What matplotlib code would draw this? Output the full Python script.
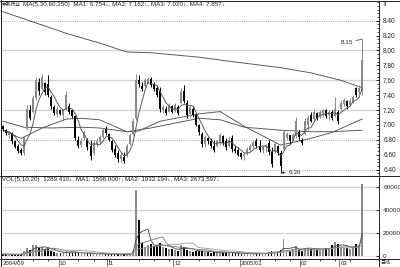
import numpy as np
import pandas as pd
import matplotlib
matplotlib.use('Agg')
import matplotlib.pyplot as plt
from matplotlib.lines import Line2D
from matplotlib.ticker import FixedLocator, FormatStrFormatter

plt.rcParams['font.family'] = ['Liberation Sans', 'DejaVu Sans', 'Noto Sans CJK SC']

# ---------------- data ----------------
stock_name = "中新药业"
price_header = "MA(5,30,60,250)  MA1: 6.754\u2193, MA2: 7.162\u2193, MA3: 7.020\u2193, MA4: 7.857\u2193"
vol_header = "VOL(5,10,20)  1289.410\u2193, MA1: 1598.000\u2191, MA2: 1932.194\u2193, MA3: 2673.597\u2193"

opens = [6.98, 6.93, 6.86, 6.88, 6.79, 6.72, 6.66, 6.63, 6.95, 7.20,
         7.18, 7.36, 7.58, 7.48, 7.56, 7.55, 7.38, 7.24, 7.15, 7.20,
         7.14, 7.22, 7.26, 7.20, 7.12, 6.80, 6.73, 6.82, 6.80, 6.72,
         6.62, 6.74, 6.77, 6.84, 6.94, 6.88, 6.79, 6.68, 6.62, 6.55,
         6.57, 6.58, 6.74, 6.88, 7.10, 7.60, 7.52, 7.52, 7.58, 7.62,
         7.55, 7.50, 7.45, 7.20, 7.22, 7.18, 7.25, 7.19, 7.24, 7.30,
         7.46, 7.30, 7.15, 7.22, 7.14, 7.00, 6.88, 6.74, 6.82, 6.78,
         6.72, 6.72, 6.76, 6.85, 6.78, 6.72, 6.82, 6.68, 6.66, 6.62,
         6.58, 6.62, 6.67, 6.72, 6.78, 6.72, 6.66, 6.70, 6.76, 6.64,
         6.64, 6.72, 6.62, 6.68, 6.82, 6.86, 6.80, 6.85, 6.90, 6.80,
         6.88, 7.00, 7.14, 7.08, 7.16, 7.11, 7.16, 7.20, 7.13, 7.17,
         7.12, 7.18, 7.22, 7.28, 7.32, 7.27, 7.31, 7.50, 7.44, 7.45]
highs = [7.00, 6.94, 6.92, 6.90, 6.80, 6.74, 6.69, 6.85, 7.27, 7.27,
         7.40, 7.65, 7.63, 7.69, 7.58, 7.67, 7.40, 7.27, 7.25, 7.22,
         7.22, 7.45, 7.30, 7.22, 7.14, 6.85, 6.82, 6.93, 6.82, 6.80,
         6.80, 6.82, 6.87, 6.96, 6.98, 6.89, 6.80, 6.73, 6.66, 6.64,
         6.64, 6.75, 6.89, 7.09, 7.69, 7.67, 7.58, 7.63, 7.65, 7.65,
         7.58, 7.54, 7.51, 7.27, 7.25, 7.29, 7.27, 7.29, 7.27, 7.49,
         7.54, 7.34, 7.27, 7.25, 7.16, 7.02, 6.91, 6.87, 6.84, 6.82,
         6.80, 6.80, 6.89, 6.87, 6.82, 6.84, 6.87, 6.73, 6.71, 6.64,
         6.64, 6.71, 6.75, 6.80, 6.82, 6.80, 6.73, 6.75, 6.80, 6.71,
         6.77, 6.73, 6.66, 6.93, 6.91, 6.87, 6.89, 7.11, 6.93, 6.82,
         7.09, 7.13, 7.18, 7.22, 7.18, 7.20, 7.22, 7.22, 7.20, 7.20,
         7.38, 7.20, 7.34, 7.36, 7.34, 7.36, 7.40, 7.51, 7.54, 8.15]
lows = [6.92, 6.87, 6.82, 6.75, 6.69, 6.62, 6.60, 6.60, 6.93, 7.07,
        7.16, 7.33, 7.40, 7.47, 7.40, 7.38, 7.22, 7.13, 7.11, 7.13,
        7.07, 7.20, 7.15, 7.09, 6.80, 6.69, 6.71, 6.80, 6.66, 6.53,
        6.60, 6.71, 6.75, 6.82, 6.87, 6.78, 6.64, 6.57, 6.51, 6.51,
        6.49, 6.57, 6.73, 6.87, 7.07, 7.51, 7.45, 7.51, 7.56, 7.51,
        7.45, 7.38, 7.18, 7.16, 7.13, 7.18, 7.16, 7.18, 7.13, 7.29,
        7.29, 7.09, 7.11, 7.11, 6.98, 6.87, 6.71, 6.71, 6.75, 6.69,
        6.64, 6.71, 6.73, 6.73, 6.66, 6.71, 6.64, 6.62, 6.58, 6.55,
        6.53, 6.60, 6.64, 6.69, 6.69, 6.64, 6.62, 6.64, 6.60, 6.44,
        6.62, 6.60, 6.36, 6.66, 6.80, 6.75, 6.78, 6.82, 6.80, 6.73,
        6.87, 6.93, 7.04, 7.07, 7.07, 7.09, 7.11, 7.09, 7.07, 7.07,
        7.11, 7.02, 7.20, 7.25, 7.22, 7.25, 7.29, 7.37, 7.42, 7.40]
closes = [6.94, 6.89, 6.90, 6.78, 6.71, 6.65, 6.62, 6.83, 7.22, 7.10,
          7.36, 7.60, 7.45, 7.64, 7.44, 7.40, 7.25, 7.16, 7.22, 7.15,
          7.20, 7.40, 7.18, 7.12, 6.83, 6.72, 6.79, 6.90, 6.70, 6.58,
          6.76, 6.78, 6.84, 6.93, 6.89, 6.80, 6.67, 6.60, 6.55, 6.60,
          6.52, 6.72, 6.86, 7.05, 7.60, 7.55, 7.48, 7.60, 7.62, 7.54,
          7.48, 7.40, 7.22, 7.24, 7.16, 7.26, 7.18, 7.27, 7.16, 7.44,
          7.32, 7.14, 7.24, 7.14, 7.00, 6.90, 6.74, 6.84, 6.78, 6.72,
          6.67, 6.78, 6.86, 6.76, 6.70, 6.80, 6.68, 6.65, 6.60, 6.57,
          6.61, 6.68, 6.72, 6.77, 6.72, 6.67, 6.70, 6.73, 6.64, 6.48,
          6.74, 6.62, 6.45, 6.90, 6.88, 6.78, 6.86, 7.05, 6.84, 6.76,
          7.05, 7.10, 7.06, 7.18, 7.10, 7.17, 7.20, 7.12, 7.18, 7.10,
          7.22, 7.05, 7.30, 7.33, 7.26, 7.32, 7.37, 7.40, 7.50, 7.87]
volumes = [1500, 1200, 1000, 1300, 1100, 1400, 1200, 4500, 7000, 5000,
           9500, 9000, 6500, 7500, 6000, 6500, 4000, 3000, 2500, 2000,
           2500, 4000, 2500, 2000, 3500, 2500, 1800, 1500, 2000, 2200,
           1500, 1200, 1400, 1600, 1300, 1500, 1800, 1500, 1200, 1000,
           1300, 1100, 2500, 4000, 57000, 31000, 11000, 8000, 9000, 10000,
           8500, 9500, 11000, 8000, 7000, 6000, 5500, 5000, 4500, 9500,
           8000, 5000, 4000, 3500, 4500, 4000, 4500, 3500, 3000, 2500,
           3000, 2800, 3500, 2500, 2500, 2200, 3000, 2000, 2200, 1800,
           1500, 1500, 1800, 1600, 2000, 1800, 2500, 2200, 3000, 4500,
           3500, 3000, 5000, 15000, 5000, 4500, 5500, 8500, 5000, 4000,
           7000, 6500, 5500, 6500, 5000, 6000, 5500, 6500, 7000, 9000,
           12000, 10500, 8000, 7000, 6500, 6000, 7500, 10000, 9000, 63000]

# long moving averages (candle index, value)
ma30_idx = [0, 6, 13, 21, 26, 32, 41, 45, 52, 65, 72, 80, 92, 102, 109, 119]
ma30_val = [6.93, 6.82, 6.96, 7.08, 7.09, 7.07, 6.91, 6.92, 7.05, 7.15, 7.18, 6.98, 6.73, 6.82, 6.90, 7.08]
ma60_idx = [0, 7, 16, 26, 32, 41, 49, 65, 72, 80, 92, 102, 109, 119]
ma60_val = [7.05, 6.97, 6.96, 6.97, 6.96, 6.91, 6.96, 7.09, 7.07, 6.97, 6.93, 6.91, 6.91, 6.93]
ma250_idx = [0, 8, 21, 32, 41, 49, 65, 76, 92, 102, 112, 119]
ma250_val = [8.52, 8.41, 8.23, 8.10, 7.98, 7.97, 7.91, 7.85, 7.77, 7.70, 7.60, 7.50]

price_ticks = [6.40, 6.60, 6.80, 7.00, 7.20, 7.40, 7.60, 7.80, 8.00, 8.20, 8.40]
vol_ticks = [0, 20000, 40000, 60000]
month_idx = [0, 19, 35, 57, 79, 99, 112]
month_lab = ["2004/09", "10", "11", "12", "2005/01", "02", "03"]

# ---------------- figure ----------------
W, H = 400, 267
fig = plt.figure(figsize=(W / 100, H / 100), dpi=100)
fig.patch.set_facecolor('white')


def rect(x0, y0, x1, y1):
    return [x0 / W, 1 - y1 / H, (x1 - x0) / W, (y1 - y0) / H]


ax = fig.add_axes(rect(1, 0.5, 379, 176))
axv = fig.add_axes(rect(1, 176, 379, 259.3), sharex=ax)
axd = fig.add_axes(rect(1, 259.3, 379, 266.5), sharex=ax)

o = np.array(opens); h = np.array(highs); l = np.array(lows); c = np.array(closes)
v = np.array(volumes)
n = len(c)
x = np.arange(n)
up = c >= o
UPC, DNC = '#8a8a8a', '#000000'
cols = np.where(up, UPC, DNC)
GRAY_LINE = '#505050'

# ---- price panel ----
for lvl in [8.0, 7.6, 7.2]:
    ax.axhline(lvl, color='#d2d2d2', lw=0.9, zorder=0)
for lvl in [8.4, 6.8, 6.4]:
    ax.axhline(lvl, color='#8c8c8c', lw=0.6, ls=(0, (1, 1.6)), zorder=0)

ax.vlines(x, l, h, colors=cols, lw=0.7, zorder=3)
body = np.maximum(np.abs(c - o), 0.008)
ax.bar(x, body, bottom=np.minimum(o, c), width=0.66, color=cols, lw=0, zorder=3)

ma5 = pd.Series(c).rolling(5, min_periods=1).mean()
ax.plot(x, ma5, color=GRAY_LINE, lw=0.65, zorder=4)
ax.plot(ma30_idx, ma30_val, color=GRAY_LINE, lw=0.65, zorder=2)
ax.plot(ma60_idx, ma60_val, color=GRAY_LINE, lw=0.65, zorder=2)
ax.plot(ma250_idx, ma250_val, color=GRAY_LINE, lw=0.65, zorder=2)

ihi = int(np.argmax(h)); ilo = int(np.argmin(l))
ax.annotate(f"{h[ihi]:.2f}", xy=(ihi, h[ihi]), xytext=(-6.5, -2), textcoords='offset points',
            ha='right', va='center', fontsize=4.6, color='#222222',
            arrowprops=dict(arrowstyle='-', color='#333333', lw=0.5, shrinkA=0, shrinkB=0))
ax.annotate(f"{l[ilo]:.2f}", xy=(ilo, l[ilo]), xytext=(5.5, 0), textcoords='offset points',
            ha='left', va='center', fontsize=4.6, color='#222222',
            arrowprops=dict(arrowstyle='-|>', mutation_scale=3, color='#333333', lw=0.5,
                            shrinkA=0, shrinkB=0.5))

ax.set_xlim(-0.663, 124.6)
ax.set_ylim(6.3154, 8.671)
ax.yaxis.tick_right()
ax.yaxis.set_major_locator(FixedLocator(price_ticks))
ax.yaxis.set_major_formatter(FormatStrFormatter('%.2f'))
ax.yaxis.set_minor_locator(FixedLocator(np.arange(6.35, 8.66, 0.05)))
ax.tick_params(axis='y', which='major', direction='in', length=2.5, width=0.6, pad=3,
               labelsize=4.7, labelcolor='#222222')
ax.tick_params(axis='y', which='minor', direction='in', length=1.3, width=0.5)
ax.tick_params(axis='x', which='both', bottom=False, labelbottom=False)

# ---- volume panel ----
for lvl in [20000, 40000, 60000]:
    axv.axhline(lvl, color='#d2d2d2', lw=0.9, zorder=0)
axv.axhline(0, color='#b0b0b0', lw=0.5, ls=(0, (1, 1.6)), zorder=0)
axv.bar(x, v, width=0.55, color=cols, lw=0, zorder=3)
vcols = ['#444444', '#777777', '#9a9a9a']
for win, vc in zip([5, 10, 20], vcols):
    axv.plot(x, pd.Series(v).rolling(win, min_periods=1).mean(), color=vc, lw=0.6, zorder=4)
axv.set_ylim(-3144, 69607)
axv.yaxis.tick_right()
axv.yaxis.set_major_locator(FixedLocator(vol_ticks))
axv.yaxis.set_major_formatter(FormatStrFormatter('%d'))
axv.tick_params(axis='y', direction='in', length=2.5, width=0.6, pad=3, labelsize=4.6,
                labelcolor='#222222')
axv.tick_params(axis='x', which='both', bottom=False, labelbottom=False)

# ---- date strip ----
axd.set_ylim(0, 1)
axd.set_yticks([])
axd.tick_params(axis='x', which='both', bottom=False, labelbottom=False)
axd.set_xticks(np.arange(0, n, 5), minor=True)
axd.tick_params(axis='x', which='minor', top=True, direction='in', length=1.3, width=0.5)
for mi, ml in zip(month_idx, month_lab):
    axd.axvline(mi - 0.6, color='#444444', lw=0.5)
    axd.text(mi - 0.2, 0.45, ml, fontsize=4.3, ha='left', va='center', color='#222222')

for a in (ax, axv, axd):
    for s in a.spines.values():
        s.set_linewidth(0.7)
        s.set_color('#222222')
    a.set_facecolor('white')

# ---- header texts & frame ----
fig.text(2 / W, 1 - 4.5 / H, stock_name, fontsize=3.4, family=['Noto Sans CJK SC'],
         va='center', ha='left', color='#222222')
fig.text(23 / W, 1 - 4.5 / H, price_header, fontsize=4.5, va='center', ha='left', color='#222222')
fig.text(2 / W, 1 - 179.8 / H, vol_header, fontsize=4.5, va='center', ha='left', color='#222222')
fig.text(380 / W, 1 - 263 / H, "日线", fontsize=3.6, family=['Noto Sans CJK SC'],
         va='center', ha='left', color='#222222')
fig.text(383 / W, 1 - 5 / H, "T", fontsize=5, fontweight='bold', va='center', ha='left', color='#111111')

for yy in [0.5, 176, 259.3, 266.5]:
    fig.add_artist(Line2D([0, 1], [1 - yy / H] * 2, color='#222222', lw=0.7, transform=fig.transFigure))
fig.add_artist(Line2D([0.5 / W] * 2, [0, 1], color='#222222', lw=0.7, transform=fig.transFigure))

fig.savefig('out.png', dpi=100, facecolor='white')
